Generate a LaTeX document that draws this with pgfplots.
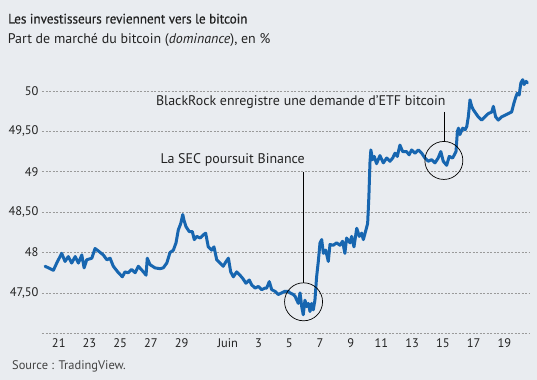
\documentclass[border=0pt]{standalone}
\usepackage{fontspec}
\setmainfont{PT Sans}
\newfontfamily\titlefont{PT Sans}[FakeBold=0.5]
\usepackage{graphicx}
\usepackage{pgfplots}
\pgfplotsset{compat=1.18}
\usepackage{pgfplotstable}
\definecolor{bg}{HTML}{E9ECF0}
\definecolor{serie}{HTML}{1766B0}
\definecolor{txt}{HTML}{222222}
\definecolor{grd}{HTML}{9A9A9A}

\pgfplotstableread{
d v
20.11 47.83
20.33 47.81
20.65 47.78
20.87 47.87
21.19 47.99
21.41 47.89
21.62 47.95
21.84 47.87
22.07 47.95
22.28 47.87
22.50 47.97
22.65 47.81
22.82 47.91
23.15 47.93
23.36 48.05
23.64 48.01
23.90 47.97
24.13 47.91
24.34 47.93
24.55 47.83
24.88 47.75
25.14 47.70
25.31 47.76
25.52 47.75
25.74 47.79
25.97 47.75
26.18 47.83
26.51 47.76
26.68 47.72
26.76 47.93
26.94 47.85
27.26 47.81
27.59 47.80
27.80 47.81
28.03 47.87
28.24 48.00
28.46 48.03
28.63 48.12
28.78 48.28
28.94 48.36
29.07 48.47
29.15 48.40
29.28 48.32
29.49 48.26
29.69 48.26
29.82 48.16
29.98 48.20
30.20 48.18
30.41 48.22
30.56 48.24
30.73 48.07
30.95 48.03
31.10 48.07
31.28 47.91
31.49 47.87
31.70 47.83
31.89 47.89
32.04 47.93
32.19 47.76
32.36 47.70
32.58 47.76
32.79 47.72
32.97 47.68
33.18 47.62
33.40 47.66
33.55 47.60
33.78 47.56
33.99 47.58
34.21 47.54
34.42 47.56
34.53 47.56
34.70 47.64
34.86 47.54
35.07 47.52
35.28 47.48
35.50 47.50
35.72 47.52
35.93 47.52
36.05 47.50
36.26 47.48
36.37 47.46
36.59 47.37
36.70 47.50
36.81 47.33
36.91 47.23
37.02 47.41
37.13 47.33
37.24 47.37
37.35 47.27
37.46 47.37
37.56 47.29
37.67 47.41
37.78 47.70
37.89 47.89
38.00 48.12
38.11 48.16
38.22 47.99
38.37 48.03
38.54 47.89
38.65 48.10
38.86 48.09
39.08 48.12
39.30 48.09
39.47 48.14
39.62 47.99
39.73 48.18
39.95 48.12
40.06 48.20
40.21 48.07
40.39 48.30
40.56 48.20
40.71 48.24
40.82 48.16
40.99 48.28
41.10 48.36
41.18 48.69
41.25 49.11
41.31 49.27
41.42 49.15
41.53 49.19
41.68 49.10
41.90 49.20
42.12 49.11
42.34 49.17
42.55 49.13
42.73 49.17
42.88 49.23
43.03 49.19
43.20 49.33
43.38 49.25
43.63 49.25
43.80 49.21
43.96 49.27
44.18 49.23
44.40 49.27
44.62 49.23
44.83 49.17
45.04 49.13
45.26 49.15
45.48 49.11
45.69 49.17
45.86 49.25
46.02 49.13
46.24 49.08
46.41 49.19
46.63 49.17
46.85 49.25
46.94 49.50
47.01 49.54
47.10 49.46
47.29 49.54
47.44 49.52
47.55 49.56
47.65 49.68
47.76 49.89
47.87 49.81
47.97 49.77
48.15 49.72
48.30 49.68
48.52 49.64
48.73 49.68
48.95 49.72
49.18 49.74
49.28 49.81
49.43 49.68
49.60 49.64
49.82 49.68
50.04 49.70
50.25 49.72
50.47 49.74
50.62 49.85
50.75 49.93
50.83 49.97
50.96 49.95
51.07 50.10
51.19 50.14
51.28 50.08
51.41 50.12
51.49 50.10
}\dominance

\begin{document}
\begin{tikzpicture}
\fill[bg] (0,0) rectangle (537bp,-380bp);
\node[anchor=west, inner sep=0pt, font=\titlefont\fontsize{13.8}{15}\selectfont, text=txt] at (8bp,-18.7bp) {\scalebox{0.955}[1]{Les investisseurs reviennent vers le bitcoin}};
\node[anchor=west, inner sep=0pt, font=\fontsize{14}{16}\selectfont, text=txt] at (7.7bp,-40bp) {Part de marché du bitcoin (\textit{dominance}), en \%};
\node[anchor=west, inner sep=0pt, font=\fontsize{12.5}{14}\selectfont, text=txt!85] at (12bp,-366bp) {Source : TradingView.};
\begin{axis}[
  at={(42bp,-333.3bp)}, anchor=south west,
  scale only axis, width=487bp, height=262.5bp,
  xmin=19.91, xmax=51.60, ymin=47, ymax=50.25,
  axis line style={draw=none}, tick style={draw=none},
  ytick={47,47.5,48,48.5,49,49.5,50},
  yticklabels={{},{47,50},{48},{48,50},{49},{49,50},{50}},
  xtick={21,23,25,27,29,32,34,36,38,40,42,44,46,48,50},
  xticklabels={21,23,25,27,29,Juin,3,5,7,9,11,13,15,17,19},
  ymajorgrids,
  grid style={grd, dash pattern=on 2bp off 1.5bp, line width=0.6bp},
  tick label style={font=\fontsize{12.5}{14}\selectfont, text=txt},
  xticklabel style={yshift=-2bp},
  clip=false,
]
\addplot[serie, line width=3bp, line join=round, line cap=round] table[x=d,y=v] {\dominance};
\coordinate (c1) at (axis cs:36.93,47.39);
\coordinate (c2) at (axis cs:46.06,49.14);
\draw[black, line width=0.7bp] (c1) circle[radius=19bp];
\draw[black, line width=0.7bp] (c2) circle[radius=19bp];
\draw[black, line width=0.7bp] (axis cs:36.93,49.0) -- ([yshift=19bp]c1);
\draw[black, line width=0.7bp] (axis cs:46.06,49.74) -- ([yshift=19bp]c2);
\node[anchor=east, inner sep=0pt, font=\fontsize{14}{16}\selectfont, text=txt] at (axis cs:37.02,49.145) {La SEC poursuit Binance};
\node[anchor=east, inner sep=0pt, font=\fontsize{14}{16}\selectfont, text=txt] at (axis cs:46.18,49.86) {BlackRock enregistre une demande d’ETF bitcoin};
\end{axis}
\end{tikzpicture}
\end{document}
